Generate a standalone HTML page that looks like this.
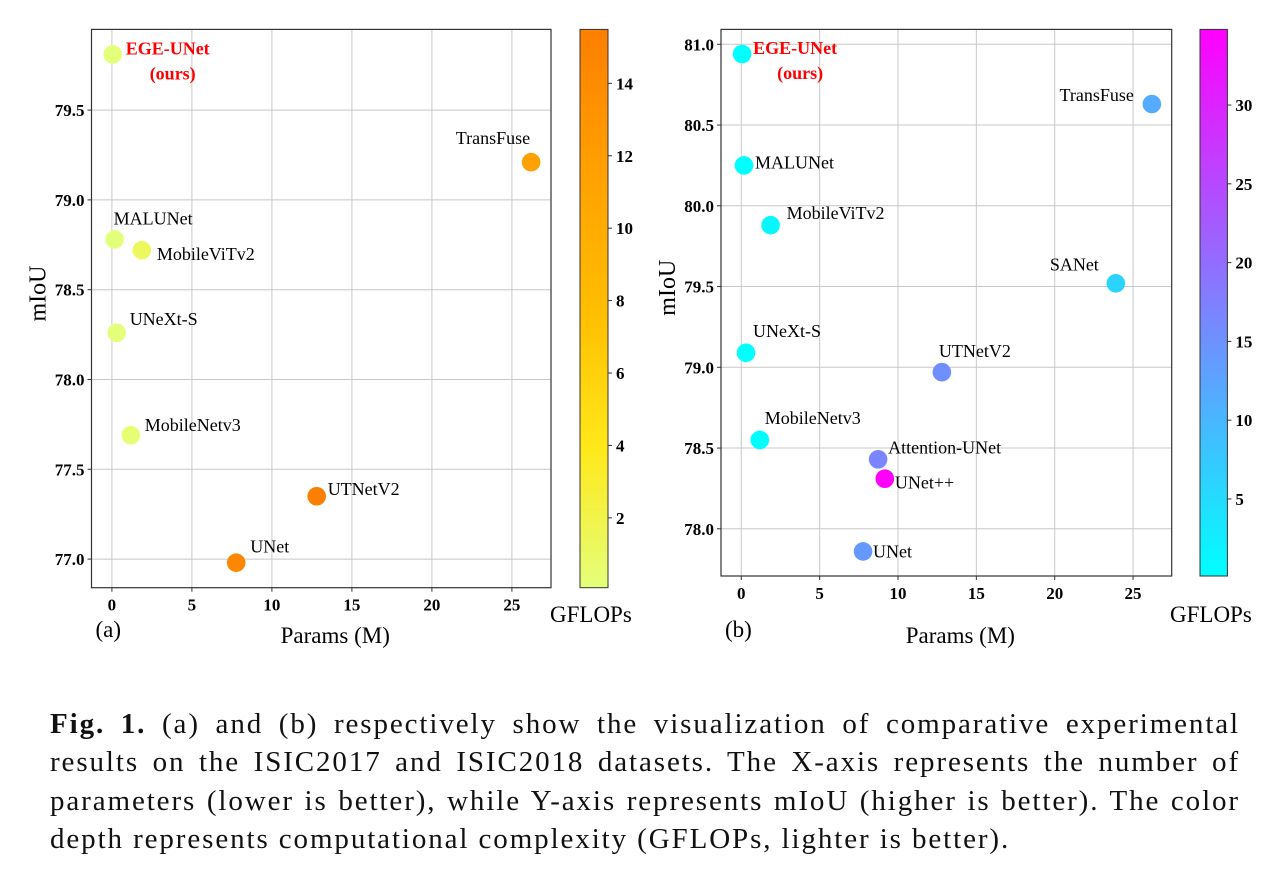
<!DOCTYPE html>
<html><head><meta charset="utf-8"><style>
html,body{margin:0;padding:0;background:#fff;width:1272px;height:869px;overflow:hidden}
svg text{font-family:"Liberation Serif",serif}
#cap{position:absolute;left:50px;top:705px;width:1190px;font-family:"Liberation Serif",serif;font-size:29px;line-height:38.3px;color:#111}
#cap .ln{text-align:justify;text-align-last:justify;white-space:nowrap;letter-spacing:1.9px}
#cap .last{text-align:left;text-align-last:left;letter-spacing:1.9px;white-space:nowrap}
</style></head><body>
<svg id="fig" width="1272" height="700" style="position:absolute;left:0;top:0">
<defs>
<linearGradient id="wistia" x1="0" y1="1" x2="0" y2="0">
<stop offset="0" stop-color="#e4ff7a"/><stop offset="0.25" stop-color="#ffe81a"/><stop offset="0.5" stop-color="#ffbd00"/><stop offset="0.75" stop-color="#ffa000"/><stop offset="1" stop-color="#fc7f00"/>
</linearGradient>
<linearGradient id="cool" x1="0" y1="1" x2="0" y2="0">
<stop offset="0" stop-color="#00ffff"/><stop offset="1" stop-color="#ff00ff"/>
</linearGradient>
</defs>
</svg>
<div id="cap">
<div class="ln"><b>Fig. 1.</b> (a) and (b) respectively show the visualization of comparative experimental</div>
<div class="ln">results on the ISIC2017 and ISIC2018 datasets. The X-axis represents the number of</div>
<div class="ln">parameters (lower is better), while Y-axis represents mIoU (higher is better). The color</div>
<div class="last">depth represents computational complexity (GFLOPs, lighter is better).</div>
</div>
<script>
// Chart (a) ISIC2017
const namesA = ["EGE-UNet","MALUNet","MobileViTv2","UNeXt-S","MobileNetv3","UTNetV2","UNet","TransFuse"];
const paramsA = [0.05,0.17,1.87,0.3,1.18,12.8,7.77,26.2];
const miouA = [79.81,78.78,78.72,78.26,77.69,77.35,76.98,79.21];
const gflopsA = [0.07,0.08,1.2,0.1,0.3,15.5,14.5,11.5];
const xTicksA = [0,5,10,15,20,25];
const yTicksA = [77.0,77.5,78.0,78.5,79.0,79.5];
const cTicksA = [2,4,6,8,10,12,14];
// Chart (b) ISIC2018
const namesB = ["EGE-UNet","TransFuse","MALUNet","MobileViTv2","SANet","UNeXt-S","UTNetV2","MobileNetv3","Attention-UNet","UNet++","UNet"];
const paramsB = [0.05,26.2,0.17,1.87,23.9,0.3,12.8,1.18,8.73,9.16,7.77];
const miouB = [80.94,80.63,80.25,79.88,79.52,79.09,78.97,78.55,78.43,78.31,77.86];
const gflopsB = [0.07,11.5,0.08,1.2,6.0,0.1,15.5,0.3,16.7,34.8,14.0];
const xTicksB = [0,5,10,15,20,25];
const yTicksB = [78.0,78.5,79.0,79.5,80.0,80.5,81.0];
const cTicksB = [5,10,15,20,25,30];

const labelOffA = [[13,0,"start"],[-1,-15,"start"],[15,10,"start"],[13,-8,"start"],[14,-4,"start"],[11,-1,"start"],[14,-10,"start"],[-1,-18,"end"]];
const labelOffB = [[11,0,"start"],[-18,-3,"end"],[11,3,"start"],[16,-6,"start"],[-17,-13,"end"],[7,-16,"start"],[-3,-15,"start"],[5,-16,"start"],[10,-6,"start"],[10,10,"start"],[10,6,"start"]];

const svg = document.getElementById('fig');
const NS = "http://www.w3.org/2000/svg";
function mk(tag, attrs, parent){const e=document.createElementNS(NS,tag);for(const k in attrs)e.setAttribute(k,attrs[k]);(parent||svg).appendChild(e);return e;}
function hex(c){return c.map(v=>Math.round(v).toString(16).padStart(2,'0')).join('');}
function lerpStops(stops,t){t=Math.max(0,Math.min(1,t));for(let i=0;i<stops.length-1;i++){const [a,ca]=stops[i],[b,cb]=stops[i+1];if(t<=b){const u=(t-a)/(b-a);return '#'+hex(ca.map((v,j)=>v+(cb[j]-v)*u));}}return '#'+hex(stops[stops.length-1][1]);}
const wistiaStops=[[0,[228,255,122]],[0.25,[255,232,26]],[0.5,[255,189,0]],[0.75,[255,160,0]],[1,[252,127,0]]];
const coolStops=[[0,[0,255,255]],[1,[255,0,255]]];

function chart(cfg){
  const g = mk('g',{});
  
  
  const X = v => cfg.x0 + v * cfg.xs;
  const Y = v => cfg.yRef - (v - cfg.yRefV) * cfg.ys;
  cfg.xTicks.forEach(t=>{
    const l=mk('line',{x1:X(t),x2:X(t),y1:cfg.top,y2:cfg.bottom,stroke:'#c8c8c8','stroke-width':1},g);
    
    
    const tx=mk('text',{x:X(t),y:cfg.bottom+23,'text-anchor':'middle','font-size':17,'font-weight':'bold'},g);
    tx.textContent=t;
    
    
    mk('line',{x1:X(t),x2:X(t),y1:cfg.bottom,y2:cfg.bottom+4,stroke:'#333'},g);
  });
  cfg.yTicks.forEach(t=>{
    const l=mk('line',{x1:cfg.left,x2:cfg.right,y1:Y(t),y2:Y(t),stroke:'#c8c8c8','stroke-width':1},g);
    
    
    const tx=mk('text',{x:cfg.left-7,y:Y(t)+6,'text-anchor':'end','font-size':17,'font-weight':'bold'},g);
    tx.textContent=t.toFixed(1);
    
    
    mk('line',{x1:cfg.left-4,x2:cfg.left,y1:Y(t),y2:Y(t),stroke:'#333'},g);
  });
  const fr=mk('rect',{x:cfg.left,y:cfg.top,width:cfg.right-cfg.left,height:cfg.bottom-cfg.top,fill:'none',stroke:'#333','stroke-width':1.2},g);
  
  
  cfg.names.forEach((n,i)=>{
    const cx=X(cfg.params[i]), cy=Y(cfg.miou[i]);
    const c=mk('circle',{cx:cx,cy:cy,r:9.3,fill:lerpStops(cfg.stops,(cfg.gflops[i]-cfg.cMin)/(cfg.cMax-cfg.cMin))},g);
    
    
    const o=cfg.offs[i];
    const isOurs = i===0;
    const t=mk('text',{x:cx+o[0],y:cy+o[1],'text-anchor':o[2],'font-size':18,'font-weight':isOurs?'bold':'normal',fill:isOurs?'#ff0000':'#000'},g);
    t.textContent=n;
    
    
    if(isOurs){
      const t2=mk('text',{x:cx+o[0]+47,y:cy+o[1]+25,'text-anchor':'middle','font-size':18,'font-weight':'bold',fill:'#ff0000'},g);
      t2.textContent='(ours)';
      
      
    }
  });
  const cb=mk('rect',{x:cfg.cbx,y:cfg.top,width:cfg.cbw,height:cfg.bottom-cfg.top,fill:'url(#'+cfg.grad+')',stroke:'#333','stroke-width':1},g);
  
  
  const CY = v => cfg.bottom - (v-cfg.cMin)/(cfg.cMax-cfg.cMin)*(cfg.bottom-cfg.top);
  cfg.cTicks.forEach(t=>{
    mk('line',{x1:cfg.cbx+cfg.cbw,x2:cfg.cbx+cfg.cbw+4,y1:CY(t),y2:CY(t),stroke:'#333'},g);
    const tx=mk('text',{x:cfg.cbx+cfg.cbw+8,y:CY(t)+6,'font-size':17,'font-weight':'bold'},g);
    tx.textContent=t;
    
    
  });
  const gl=mk('text',{x:cfg.cbx-30,y:622,'font-size':23},g); gl.textContent='GFLOPs';
  
  
  const xt=mk('text',{x:(cfg.left+cfg.right)/2+14,y:643,'text-anchor':'middle','font-size':23},g); xt.textContent='Params (M)';
  
  
  const yx=cfg.left-46, yy=(cfg.top+cfg.bottom)/2-15;
  const yt=mk('text',{x:yx,y:yy,'text-anchor':'middle','font-size':24,transform:'rotate(-90 '+yx+' '+yy+')'},g); yt.textContent='mIoU';
  
  
  const pl=mk('text',{x:cfg.left+4,y:637,'font-size':23},g); pl.textContent=cfg.panel;
  
  
}
chart({id:'a',panel:'(a)',names:namesA,params:paramsA,miou:miouA,gflops:gflopsA,xTicks:xTicksA,yTicks:yTicksA,cTicks:cTicksA,
  left:91.5,right:551,top:29.4,bottom:587.7,x0:111.9,xs:16.0,yRef:559.1,yRefV:77.0,ys:179.6,
  cbx:580,cbw:28,cMin:0.07,cMax:15.49,stops:wistiaStops,grad:'wistia',offs:labelOffA});
chart({id:'b',panel:'(b)',names:namesB,params:paramsB,miou:miouB,gflops:gflopsB,xTicks:xTicksB,yTicks:yTicksB,cTicks:cTicksB,
  left:721,right:1171.7,top:29.4,bottom:576,x0:741.3,xs:15.67,yRef:528.8,yRefV:78.0,ys:161.5,
  cbx:1200,cbw:27.4,cMin:0.11,cMax:34.8,stops:coolStops,grad:'cool',offs:labelOffB});
</script>
</body></html>
